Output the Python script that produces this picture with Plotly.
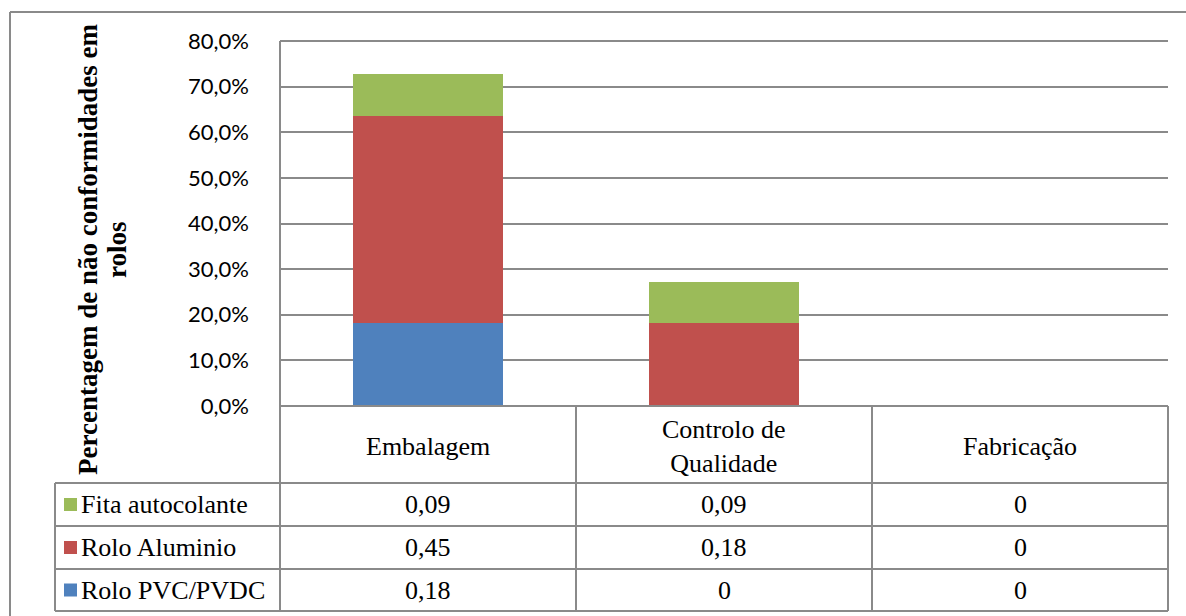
import plotly.graph_objects as go

# Categories and series (share of non-conforming rolls)
categories = ["Embalagem", "Controlo de Qualidade", "Fabricação"]
category_labels = ["Embalagem", "Controlo de<br>Qualidade", "Fabricação"]
series_names = ["Rolo PVC/PVDC", "Rolo Aluminio", "Fita autocolante"]
rolo_pvc = [0.1818, 0.0, 0.0]
rolo_aluminio = [0.4545, 0.1818, 0.0]
fita_autocolante = [0.0909, 0.0909, 0.0]
series_colors = ["#4F81BD", "#C0504D", "#9BBB59"]
y_ticks = [0.0, 0.1, 0.2, 0.3, 0.4, 0.5, 0.6, 0.7, 0.8]

W, H = 1186, 616
PL, PR, PT, PB = 280, 1168, 41, 406  # plot area in pixels
GRAY = "#8a8a8a"
SERIF = "Liberation Serif"


def px(x):
    return (x - PL) / (PR - PL)


def py(y):
    return (PB - y) / (PB - PT)


def fmt(v):
    return "0" if v == 0 else f"{v:.2f}".replace(".", ",")


series_values = [rolo_pvc, rolo_aluminio, fita_autocolante]

fig = go.Figure()
for name, vals, col in zip(series_names, series_values, series_colors):
    fig.add_trace(go.Bar(x=categories, y=vals, name=name, marker_color=col,
                         marker_line_width=0))

shapes = []


def line(x0, y0, x1, y1, w=2, c=GRAY):
    shapes.append(dict(type="line", xref="paper", yref="paper",
                       x0=px(x0), y0=py(y0), x1=px(x1), y1=py(y1),
                       line=dict(color=c, width=w)))


# outer chart frame
line(10, 12, W + 5, 12)
line(10, 12, 10, H + 5)

# top gridline and category baseline
line(PL, PT, PR, PT)
line(PL, PB, PR, PB)

# data table grid
T_LEFT = 55
row_lines = [483, 526, 569, 611]
col_lines = [PL, 576, 872, PR]
for yl in row_lines:
    line(T_LEFT, yl, PR, yl)
for xl in col_lines:
    line(xl, PT if xl == PL else PB, xl, row_lines[-1])
line(T_LEFT, row_lines[0], T_LEFT, row_lines[-1])

annotations = []
col_centers = [(col_lines[i] + col_lines[i + 1]) / 2 for i in range(3)]
FS = 26
for cx, lab in zip(col_centers, category_labels):
    annotations.append(dict(x=px(cx), y=py((PB + row_lines[0]) / 2 + 2), xref="paper", yref="paper",
                            text=lab, showarrow=False, font=dict(family=SERIF, size=FS, color="#000"),
                            xanchor="center", yanchor="middle"))

# table rows: top row is the last stacked series
table_rows = list(zip(series_names, series_values, series_colors))[::-1]
for i, (name, vals, col) in enumerate(table_rows):
    y0, y1 = row_lines[i], row_lines[i + 1]
    cy = (y0 + y1) / 2
    shapes.append(dict(type="rect", xref="paper", yref="paper",
                       x0=px(64), x1=px(77), y0=py(cy - 6.5), y1=py(cy + 6.5),
                       fillcolor=col, line=dict(width=0)))
    annotations.append(dict(x=px(79), y=py(cy), xref="paper", yref="paper", text=name,
                            showarrow=False, xanchor="left", yanchor="middle",
                            font=dict(family=SERIF, size=FS, color="#000")))
    for cx, v in zip(col_centers, vals):
        annotations.append(dict(x=px(cx), y=py(cy), xref="paper", yref="paper", text=fmt(v),
                                showarrow=False, xanchor="center", yanchor="middle",
                                font=dict(family=SERIF, size=FS, color="#000")))

# y-axis title, two lines
for txt, xc in [("Percentagem de não conformidades em", 88), ("rolos", 117)]:
    annotations.append(dict(x=px(xc), y=py(250), xref="paper", yref="paper",
                            text=f"<b>{txt}</b>",
                            textangle=-90, showarrow=False, xanchor="center", yanchor="middle",
                            font=dict(family=SERIF, size=27, color="#000")))

fig.update_layout(
    width=W, height=H,
    margin=dict(l=PL, r=W - PR, t=PT, b=H - PB, autoexpand=False),
    barmode="stack", bargap=0.49,
    showlegend=False,
    separators=",.",
    plot_bgcolor="white", paper_bgcolor="white",
    shapes=shapes, annotations=annotations,
    xaxis=dict(showticklabels=False, showgrid=False, zeroline=False, showline=False,
               fixedrange=True),
    yaxis=dict(range=[0, 0.8], tickvals=y_ticks, tickformat=".1%",
               showgrid=True, gridcolor=GRAY, gridwidth=2, zeroline=False,
               showline=False, ticks="", ticklabelstandoff=30,
               tickfont=dict(family="Lato", size=22, color="#000"), fixedrange=True),
)

fig.write_html("out.html", config={"displayModeBar": False})
